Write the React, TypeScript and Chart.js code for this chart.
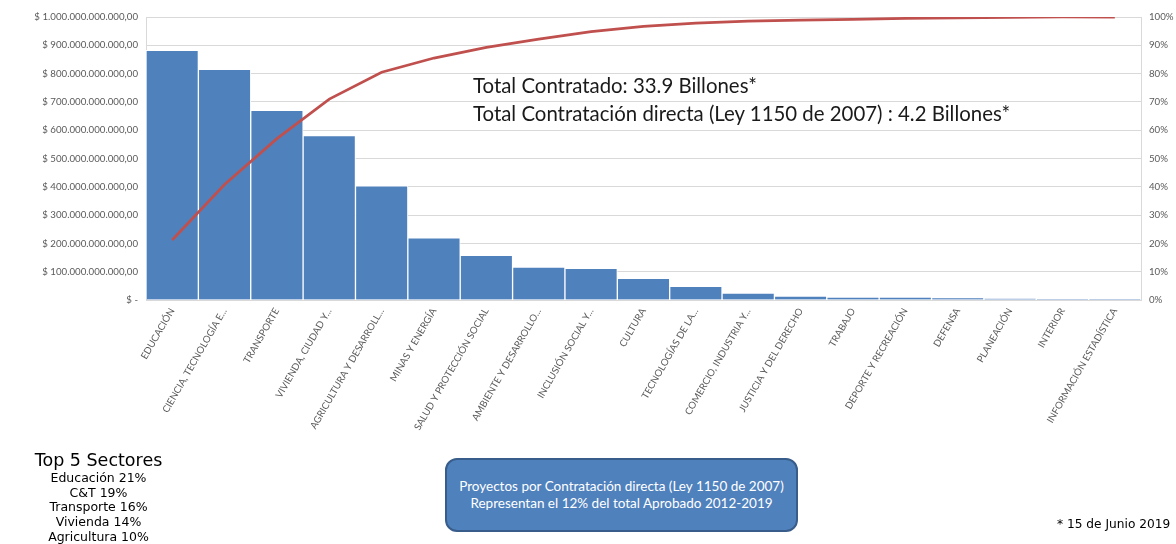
import React, { useEffect, useRef } from "react";
import { Chart, registerables } from "chart.js";

Chart.register(...registerables);

const categories = [
  "EDUCACIÓN",
  "CIENCIA, TECNOLOGÍA E...",
  "TRANSPORTE",
  "VIVIENDA, CIUDAD Y...",
  "AGRICULTURA Y DESARROLL...",
  "MINAS Y ENERGÍA",
  "SALUD Y PROTECCIÓN SOCIAL",
  "AMBIENTE Y DESARROLLO...",
  "INCLUSIÓN SOCIAL Y...",
  "CULTURA",
  "TECNOLOGÍAS DE LA...",
  "COMERCIO, INDUSTRIA Y...",
  "JUSTICIA Y DEL DERECHO",
  "TRABAJO",
  "DEPORTE Y RECREACIÓN",
  "DEFENSA",
  "PLANEACIÓN",
  "INTERIOR",
  "INFORMACIÓN ESTADÍSTICA",
];

const amounts = [
  882e9, 815e9, 670e9, 581e9, 403e9, 220e9, 158e9, 116e9, 112e9, 76.5e9,
  48e9, 24.7e9, 14e9, 10.6e9, 10e9, 8e9, 5e9, 0.5e9, 0.2e9,
];

const cumulativePct = [
  21.2, 40.8, 57, 71, 80.5, 85.5, 89.3, 92.2, 94.8, 96.7, 97.8, 98.5, 98.9,
  99.2, 99.5, 99.7, 99.9, 100, 100,
];

const topSectors = [
  "Educación 21%",
  "C&T 19%",
  "Transporte 16%",
  "Vivienda 14%",
  "Agricultura 10%",
];

const annotationLines = [
  "Total Contratado: 33.9 Billones*",
  "Total Contratación directa (Ley 1150 de 2007) : 4.2 Billones*",
];

const boxLines = [
  "Proyectos por Contratación directa (Ley 1150 de 2007)",
  "Representan el 12% del total Aprobado 2012-2019",
];

function formatPeso(v: number): string {
  if (v === 0) return "$ -";
  const s = Math.round(v).toString().replace(/\B(?=(\d{3})+(?!\d))/g, ".");
  return "$ " + s + ",00";
}

export default function App() {
  const canvasRef = useRef<HTMLCanvasElement | null>(null);

  useEffect(() => {
    if (!canvasRef.current) return;
    const tickFont = { family: "Lato", size: 9.7 };
    const chart = new Chart(canvasRef.current, {
      data: {
        labels: categories,
        datasets: [
          {
            type: "line",
            data: cumulativePct,
            yAxisID: "yPct",
            borderColor: "#C0504D",
            borderWidth: 2.75,
            pointRadius: 0,
            tension: 0,
            order: 0,
          },
          {
            type: "bar",
            data: amounts,
            yAxisID: "y",
            backgroundColor: "#4F81BD",
            borderColor: "#FFFFFF",
            borderWidth: 1,
            barPercentage: 1,
            categoryPercentage: 1,
            order: 1,
          },
        ],
      } as any,
      options: {
        animation: false,
        responsive: false,
        maintainAspectRatio: false,
        layout: { padding: { top: 17, left: 0, right: 0, bottom: 0 } },
        plugins: { legend: { display: false }, tooltip: { enabled: false } },
        scales: {
          x: {
            grid: { display: false, drawTicks: false },
            border: { display: false },
            ticks: {
              autoSkip: false,
              maxRotation: 60,
              minRotation: 60,
              color: "#595959",
              font: tickFont,
              padding: 6,
            },
            afterFit: (s: any) => {
              s.height = 244;
            },
          },
          y: {
            position: "left",
            min: 0,
            max: 1e12,
            ticks: {
              stepSize: 1e11,
              color: "#595959",
              font: tickFont,
              padding: 8,
              callback: (v: any) => formatPeso(Number(v)),
            },
            grid: { color: "#D9D9D9", drawTicks: false },
            border: { display: true, color: "#D9D9D9" },
            afterFit: (s: any) => {
              s.width = 146;
            },
          },
          yPct: {
            position: "right",
            min: 0,
            max: 100,
            ticks: {
              stepSize: 10,
              color: "#595959",
              font: tickFont,
              padding: 8,
              callback: (v: any) => v + "%",
            },
            grid: { drawOnChartArea: false, drawTicks: false },
            border: { display: true, color: "#D9D9D9" },
            afterFit: (s: any) => {
              s.width = 35;
            },
          },
        },
      } as any,
    });
    return () => chart.destroy();
  }, []);

  return (
    <div
      style={{
        position: "fixed",
        left: 0,
        top: 0,
        width: 1176,
        height: 544,
        background: "#FFFFFF",
        overflow: "hidden",
      }}
    >
      <canvas
        ref={canvasRef}
        width={1176}
        height={544}
        style={{ position: "absolute", left: 0, top: 0, width: 1176, height: 544 }}
      />
      <div
        style={{
          position: "absolute",
          left: 473,
          top: 71,
          fontFamily: "Lato",
          fontSize: 20.4,
          lineHeight: "28px",
          color: "#1A1A1A",
          whiteSpace: "nowrap",
        }}
      >
        {annotationLines.map((t) => (
          <div key={t}>{t}</div>
        ))}
      </div>
      <div
        style={{
          position: "absolute",
          left: 0,
          top: 450,
          width: 197,
          textAlign: "center",
          fontFamily: "DejaVu Sans",
          color: "#000000",
        }}
      >
        <div style={{ fontSize: 17.5, lineHeight: "21px" }}>Top 5 Sectores</div>
        {topSectors.map((t) => (
          <div key={t} style={{ fontSize: 12.5, lineHeight: "14.7px" }}>
            {t}
          </div>
        ))}
      </div>
      <div
        style={{
          position: "absolute",
          left: 445,
          top: 458,
          width: 353,
          height: 74,
          boxSizing: "border-box",
          background: "#4F81BD",
          border: "2px solid #385D8A",
          borderRadius: 12,
          color: "#FFFFFF",
          fontFamily: "Lato",
          fontSize: 13.5,
          lineHeight: "17px",
          display: "flex",
          flexDirection: "column",
          justifyContent: "center",
          alignItems: "center",
        }}
      >
        {boxLines.map((t) => (
          <div key={t}>{t}</div>
        ))}
      </div>
      <div
        style={{
          position: "absolute",
          left: 1057,
          top: 517,
          fontFamily: "DejaVu Sans",
          fontSize: 12.2,
          color: "#000000",
          whiteSpace: "nowrap",
        }}
      >
        * 15 de Junio 2019
      </div>
    </div>
  );
}
